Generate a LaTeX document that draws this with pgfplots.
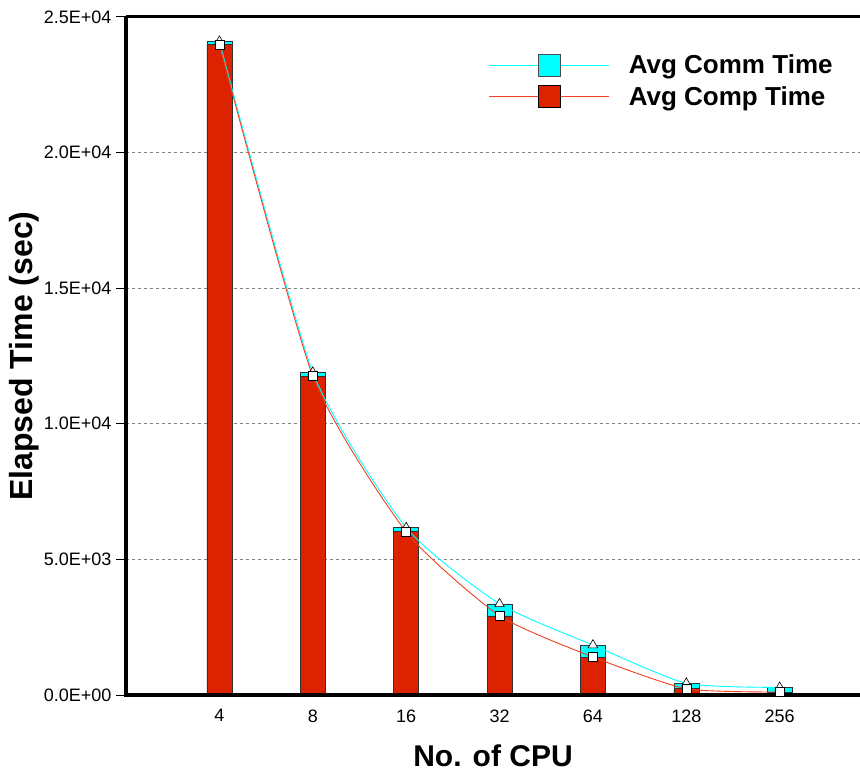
\documentclass[border=0pt]{standalone}
\usepackage{pgfplots}
\pgfplotsset{compat=1.18}
\usepackage{fontspec}
\setmainfont{Liberation Sans}
\definecolor{barred}{HTML}{DD2200}
\definecolor{linered}{HTML}{F0401E}
\definecolor{cyanc}{HTML}{00FFFF}
\begin{document}
\begin{tikzpicture}
\begin{axis}[
  scale only axis,
  width=734pt, height=678pt,
  xmin=-1, xmax=6.86,
  ymin=0, ymax=25000,
  scaled y ticks=false,
  axis line style={draw=none},
  xtick={0,1,2,3,4,5,6},
  xticklabels={4,8,16,32,64,128,256},
  xtick style={draw=none},
  ytick={0,5000,10000,15000,20000,25000},
  yticklabels={0.0E+00,5.0E+03,1.0E+04,1.5E+04,2.0E+04,2.5E+04},
  ytick pos=left,
  tick align=outside,
  major tick length=10pt,
  ytick style={black, line width=1pt},
  ymajorgrids,
  grid style={gray, dashed, line width=0.7pt},
  tick label style={font=\fontsize{18}{21}\selectfont},
  xticklabel style={yshift=-1pt},
  yticklabel style={xshift=-1pt},
  xlabel={\textbf{No. of CPU}},
  ylabel={\textbf{Elapsed Time (sec)}},
  xlabel style={font=\fontsize{30}{34}\selectfont, yshift=-16pt},
  ylabel style={font=\fontsize{32}{36}\selectfont, yshift=-2pt},
  clip=false,
  legend cell align=left,
  legend style={draw=none, fill=none, at={(rel axis cs:0.49,0.950)}, anchor=north west,
    font=\fontsize{26}{30}\selectfont\bfseries, row sep=7pt},
  legend image code/.code={\draw[#1, mark repeat=2, mark phase=2] plot coordinates {(0pt,0pt) (60pt,0pt) (120pt,0pt)};},
]
\addlegendimage{cyanc, line width=1pt, mark=square*, mark size=11pt, mark options={fill=cyanc, draw=black!70, line width=0.8pt}}
\addlegendentry{\hspace*{17pt}Avg Comm Time}
\addlegendimage{linered, line width=1pt, mark=square*, mark size=11pt, mark options={fill=barred, draw=black, line width=0.8pt}}
\addlegendentry{\hspace*{17pt}Avg Comp Time}
% total (comm + comp)
\addplot[ybar, bar width=25pt, bar shift=0pt, fill=cyanc, draw=black!80, line width=0.6pt, forget plot]
  coordinates {(0,24100) (1,11900) (2,6170) (3,3360) (4,1840) (5,430) (6,280)};
% comp
\addplot[ybar, bar width=25pt, bar shift=0pt, fill=barred, draw=black!80, line width=0.6pt, forget plot]
  coordinates {(0,23980) (1,11760) (2,6020) (3,2920) (4,1400) (5,230) (6,110)};
% lines
\addplot[cyanc, line width=0.9pt, smooth, tension=0.35, mark=triangle*, mark size=5.5pt,
  mark options={fill=white, draw=black, line width=0.6pt}, forget plot]
  coordinates {(0,24100) (1,11900) (2,6170) (3,3360) (4,1840) (5,430) (6,280)};
\addplot[linered, line width=0.9pt, smooth, tension=0.35, mark=square*, mark size=4.5pt,
  mark options={fill=white, draw=black, line width=0.6pt}, forget plot]
  coordinates {(0,23980) (1,11760) (2,6020) (3,2920) (4,1400) (5,230) (6,110)};
% frame
\draw[black, line width=4pt] (rel axis cs:0,1) -- (rel axis cs:0,0) -- (rel axis cs:1,0);
\draw[black, line width=3pt] (rel axis cs:0,1) -- (rel axis cs:1,1);
\coordinate (bl) at (rel axis cs:0,0);
\coordinate (tr) at (rel axis cs:1,1);
\end{axis}
\pgfresetboundingbox
\path ([shift={(-126pt,-78pt)}]bl) rectangle ([shift={(0pt,17pt)}]tr);
\end{tikzpicture}
\end{document}
